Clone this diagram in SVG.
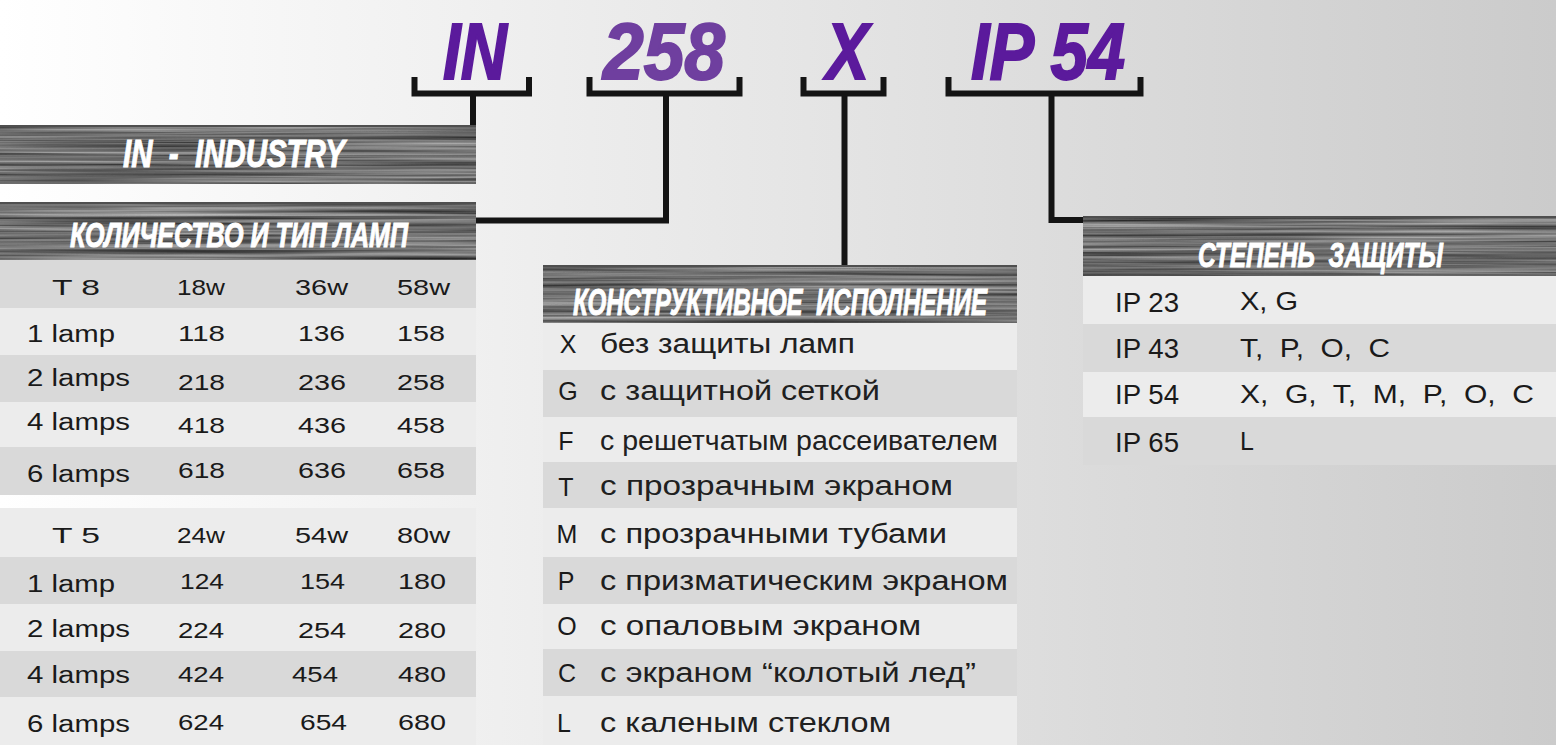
<svg xmlns="http://www.w3.org/2000/svg" width="1556" height="745" viewBox="0 0 1556 745">
<defs>
<linearGradient id="bg" x1="0" y1="0" x2="1556" y2="0" gradientUnits="userSpaceOnUse">
<stop offset="0" stop-color="#ffffff"/>
<stop offset="0.5" stop-color="#e6e6e6"/>
<stop offset="1" stop-color="#cbcbcb"/>
</linearGradient>
<filter id="brushed" x="0" y="0" width="1" height="1" color-interpolation-filters="sRGB">
<feTurbulence type="fractalNoise" baseFrequency="0.003 0.3" numOctaves="3" seed="7"/>
<feColorMatrix type="matrix" values="0.75 0 0 0 0.07  0.75 0 0 0 0.07  0.75 0 0 0 0.07  0 0 0 0 1"/>
</filter>
<style>
.bar{filter:url(#brushed)}
.edge{fill:#4f4f4f}
.hdr{font-family:"Liberation Sans",Arial,sans-serif;font-weight:bold;font-style:italic;fill:#ffffff;stroke:#ffffff;stroke-width:1}
.code{font-family:"Liberation Sans",Arial,sans-serif;font-weight:bold;font-style:italic;font-size:80px;fill:#5b1a9c;stroke:#5b1a9c;stroke-width:2}
.code2{fill:#6f3f9f;stroke:#6f3f9f}
.lt{fill:#ececec}
.dk{fill:#d9d9d9}
.t{font-family:"Liberation Sans",Arial,sans-serif;fill:#1a1a1a}
.lab{font-size:23px}
.num{font-size:22px}
.hd{font-size:22px}
.let{font-size:25px;text-anchor:middle}
.dsc{font-size:27px;fill:#202020}
.ip{font-size:27px}
.ipv{font-size:25px}
.conn{fill:none;stroke:#141414;stroke-width:6;stroke-linejoin:miter;stroke-linecap:butt}
</style>
</defs>
<rect x="0" y="0" width="1556" height="745" fill="url(#bg)"/>

<g id="code-IN"><text class="code" x="443" y="79" textLength="64" lengthAdjust="spacingAndGlyphs">IN</text></g>
<g id="code-258"><text class="code code2" x="603" y="79" textLength="122" lengthAdjust="spacingAndGlyphs">258</text></g>
<g id="code-X"><text class="code" x="826" y="79" textLength="43" lengthAdjust="spacingAndGlyphs">X</text></g>
<g id="code-IP54"><text class="code" x="971" y="79" textLength="154" lengthAdjust="spacingAndGlyphs">IP 54</text></g>

<g id="connectors">
<path class="conn" d="M414.5,77 V93.5 H529 V77"/>
<path class="conn" d="M473,93.5 V125"/>
<path class="conn" d="M589.5,77 V93.5 H739.5 V77"/>
<path class="conn" d="M666,93.5 V220.5 H476"/>
<path class="conn" d="M803.5,77 V93.5 H883.5 V77"/>
<path class="conn" d="M844.5,93.5 V265"/>
<path class="conn" d="M948.5,77 V93.5 H1140.5 V77"/>
<path class="conn" d="M1051.5,93.5 V220 H1083"/>
</g>

<g id="panel-industry">
<rect class="bar" x="0" y="125" width="476" height="59"/>
<rect class="edge" x="0" y="125" width="476" height="2"/>
<text class="hdr" x="123" y="167" font-size="38" textLength="222" lengthAdjust="spacingAndGlyphs" xml:space="preserve">IN  -  INDUSTRY</text>
</g>

<g id="panel-lamps">
<rect class="bar" x="0" y="202" width="476" height="58"/>
<rect class="edge" x="0" y="202" width="476" height="2"/>
<text class="hdr" x="70" y="247" font-size="35" textLength="338" lengthAdjust="spacingAndGlyphs">КОЛИЧЕСТВО И ТИП ЛАМП</text>
<rect class="dk" x="0" y="260" width="476" height="48"/>
<rect class="lt" x="0" y="308" width="476" height="47"/>
<rect class="dk" x="0" y="355" width="476" height="47"/>
<rect class="lt" x="0" y="402" width="476" height="45"/>
<rect class="dk" x="0" y="447" width="476" height="48"/>
<g class="t">
<text class="hd" x="52" y="295" textLength="48" lengthAdjust="spacingAndGlyphs">T 8</text>
<text class="hd" x="177" y="295" textLength="48" lengthAdjust="spacingAndGlyphs">18w</text>
<text class="hd" x="295" y="295" textLength="53" lengthAdjust="spacingAndGlyphs">36w</text>
<text class="hd" x="397" y="295" textLength="53" lengthAdjust="spacingAndGlyphs">58w</text>
<text class="lab" x="27" y="342" textLength="88" lengthAdjust="spacingAndGlyphs">1 lamp</text>
<text class="num" x="178" y="341" textLength="47" lengthAdjust="spacingAndGlyphs">118</text>
<text class="num" x="298" y="341" textLength="47" lengthAdjust="spacingAndGlyphs">136</text>
<text class="num" x="397" y="341" textLength="48" lengthAdjust="spacingAndGlyphs">158</text>
<text class="lab" x="27" y="386" textLength="103" lengthAdjust="spacingAndGlyphs">2 lamps</text>
<text class="num" x="178" y="390" textLength="47" lengthAdjust="spacingAndGlyphs">218</text>
<text class="num" x="298" y="390" textLength="48" lengthAdjust="spacingAndGlyphs">236</text>
<text class="num" x="397" y="390" textLength="48" lengthAdjust="spacingAndGlyphs">258</text>
<text class="lab" x="27" y="430" textLength="103" lengthAdjust="spacingAndGlyphs">4 lamps</text>
<text class="num" x="178" y="433" textLength="47" lengthAdjust="spacingAndGlyphs">418</text>
<text class="num" x="298" y="433" textLength="48" lengthAdjust="spacingAndGlyphs">436</text>
<text class="num" x="397" y="433" textLength="48" lengthAdjust="spacingAndGlyphs">458</text>
<text class="lab" x="27" y="482" textLength="103" lengthAdjust="spacingAndGlyphs">6 lamps</text>
<text class="num" x="178" y="478" textLength="47" lengthAdjust="spacingAndGlyphs">618</text>
<text class="num" x="298" y="478" textLength="48" lengthAdjust="spacingAndGlyphs">636</text>
<text class="num" x="397" y="478" textLength="48" lengthAdjust="spacingAndGlyphs">658</text>
</g>
<rect class="lt" x="0" y="508" width="476" height="49"/>
<rect class="dk" x="0" y="557" width="476" height="47"/>
<rect class="lt" x="0" y="604" width="476" height="47"/>
<rect class="dk" x="0" y="651" width="476" height="46"/>
<rect class="lt" x="0" y="697" width="476" height="48"/>
<g class="t">
<text class="hd" x="52" y="543" textLength="48" lengthAdjust="spacingAndGlyphs">T 5</text>
<text class="hd" x="177" y="543" textLength="48" lengthAdjust="spacingAndGlyphs">24w</text>
<text class="hd" x="295" y="543" textLength="53" lengthAdjust="spacingAndGlyphs">54w</text>
<text class="hd" x="397" y="543" textLength="53" lengthAdjust="spacingAndGlyphs">80w</text>
<text class="lab" x="27" y="592" textLength="88" lengthAdjust="spacingAndGlyphs">1 lamp</text>
<text class="num" x="180" y="589" textLength="44" lengthAdjust="spacingAndGlyphs">124</text>
<text class="num" x="300" y="589" textLength="45" lengthAdjust="spacingAndGlyphs">154</text>
<text class="num" x="398" y="589" textLength="48" lengthAdjust="spacingAndGlyphs">180</text>
<text class="lab" x="27" y="637" textLength="103" lengthAdjust="spacingAndGlyphs">2 lamps</text>
<text class="num" x="178" y="638" textLength="46" lengthAdjust="spacingAndGlyphs">224</text>
<text class="num" x="298" y="638" textLength="48" lengthAdjust="spacingAndGlyphs">254</text>
<text class="num" x="398" y="638" textLength="48" lengthAdjust="spacingAndGlyphs">280</text>
<text class="lab" x="27" y="683" textLength="103" lengthAdjust="spacingAndGlyphs">4 lamps</text>
<text class="num" x="178" y="682" textLength="46" lengthAdjust="spacingAndGlyphs">424</text>
<text class="num" x="292" y="682" textLength="46" lengthAdjust="spacingAndGlyphs">454</text>
<text class="num" x="398" y="682" textLength="48" lengthAdjust="spacingAndGlyphs">480</text>
<text class="lab" x="27" y="732" textLength="103" lengthAdjust="spacingAndGlyphs">6 lamps</text>
<text class="num" x="178" y="730" textLength="46" lengthAdjust="spacingAndGlyphs">624</text>
<text class="num" x="300" y="730" textLength="47" lengthAdjust="spacingAndGlyphs">654</text>
<text class="num" x="398" y="730" textLength="48" lengthAdjust="spacingAndGlyphs">680</text>
</g>
</g>

<g id="panel-construction">
<rect class="bar" x="543" y="265" width="474" height="58"/>
<rect class="edge" x="543" y="265" width="474" height="2"/>
<text class="hdr" x="573" y="315" font-size="37" textLength="414" lengthAdjust="spacingAndGlyphs" xml:space="preserve">КОНСТРУКТИВНОЕ  ИСПОЛНЕНИЕ</text>
<rect class="lt" x="543" y="323" width="474" height="47"/>
<rect class="dk" x="543" y="370" width="474" height="47"/>
<rect class="lt" x="543" y="417" width="474" height="45"/>
<rect class="dk" x="543" y="462" width="474" height="46"/>
<rect class="lt" x="543" y="508" width="474" height="49"/>
<rect class="dk" x="543" y="557" width="474" height="47"/>
<rect class="lt" x="543" y="604" width="474" height="45"/>
<rect class="dk" x="543" y="649" width="474" height="47"/>
<rect class="lt" x="543" y="696" width="474" height="49"/>
<g class="t">
<text class="let" x="568" y="353">X</text>
<text class="dsc" x="600" y="353" textLength="255" lengthAdjust="spacingAndGlyphs">без защиты ламп</text>
<text class="let" x="568" y="400">G</text>
<text class="dsc" x="600" y="400" textLength="280" lengthAdjust="spacingAndGlyphs">с защитной сеткой</text>
<text class="let" x="566" y="450">F</text>
<text class="dsc" x="600" y="450" textLength="398" lengthAdjust="spacingAndGlyphs">с решетчатым рассеивателем</text>
<text class="let" x="566" y="496">T</text>
<text class="dsc" x="600" y="495" textLength="353" lengthAdjust="spacingAndGlyphs">с прозрачным экраном</text>
<text class="let" x="567" y="543">M</text>
<text class="dsc" x="600" y="543" textLength="347" lengthAdjust="spacingAndGlyphs">с прозрачными тубами</text>
<text class="let" x="566" y="590">P</text>
<text class="dsc" x="600" y="590" textLength="408" lengthAdjust="spacingAndGlyphs">с призматическим экраном</text>
<text class="let" x="567" y="635">O</text>
<text class="dsc" x="600" y="635" textLength="321" lengthAdjust="spacingAndGlyphs">с опаловым экраном</text>
<text class="let" x="567" y="682">C</text>
<text class="dsc" x="600" y="682" textLength="376" lengthAdjust="spacingAndGlyphs">с экраном “колотый лед”</text>
<text class="let" x="564" y="732">L</text>
<text class="dsc" x="600" y="732" textLength="291" lengthAdjust="spacingAndGlyphs">с каленым стеклом</text>
</g>
</g>

<g id="panel-protection">
<rect class="bar" x="1083" y="216" width="473" height="60"/>
<rect class="edge" x="1083" y="216" width="473" height="2"/>
<text class="hdr" x="1198" y="267" font-size="35" textLength="245" lengthAdjust="spacingAndGlyphs" xml:space="preserve">СТЕПЕНЬ  ЗАЩИТЫ</text>
<rect class="lt" x="1083" y="276" width="473" height="48"/>
<rect class="dk" x="1083" y="324" width="473" height="48"/>
<rect class="lt" x="1083" y="372" width="473" height="45"/>
<rect class="dk" x="1083" y="417" width="473" height="48"/>
<g class="t">
<text class="ip" x="1115" y="312" textLength="64" lengthAdjust="spacingAndGlyphs">IP 23</text>
<text class="ipv" x="1240" y="310" textLength="58" lengthAdjust="spacingAndGlyphs">X, G</text>
<text class="ip" x="1115" y="358" textLength="64" lengthAdjust="spacingAndGlyphs">IP 43</text>
<text class="ipv" x="1240" y="357" textLength="150" lengthAdjust="spacingAndGlyphs" xml:space="preserve">T,  P,  O,  C</text>
<text class="ip" x="1115" y="404" textLength="64" lengthAdjust="spacingAndGlyphs">IP 54</text>
<text class="ipv" x="1240" y="403" textLength="294" lengthAdjust="spacingAndGlyphs" xml:space="preserve">X,  G,  T,  M,  P,  O,  C</text>
<text class="ip" x="1115" y="452" textLength="64" lengthAdjust="spacingAndGlyphs">IP 65</text>
<text class="ipv" x="1240" y="450">L</text>
</g>
</g>
</svg>
